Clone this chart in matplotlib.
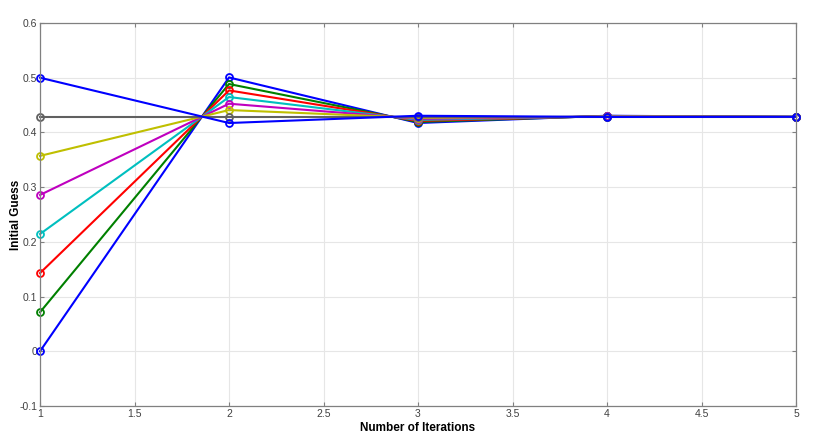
import numpy as np
import matplotlib
matplotlib.use('Agg')
import matplotlib.pyplot as plt

plt.rcParams['font.family'] = ['Liberation Sans', 'DejaVu Sans']

iterations = [1, 2, 3, 4, 5]

# one row per initial guess
guess_0 = [0.0, 0.5005, 0.4172, 0.4305, 0.4283]
guess_1 = [0.0714, 0.4885, 0.4191, 0.4301, 0.4284]
guess_2 = [0.1429, 0.4768, 0.4210, 0.4298, 0.4284]
guess_3 = [0.2143, 0.4647, 0.4229, 0.4295, 0.4285]
guess_4 = [0.2857, 0.4525, 0.4248, 0.4292, 0.4285]
guess_5 = [0.3571, 0.4409, 0.4267, 0.4289, 0.4286]
guess_6 = [0.4286, 0.4286, 0.4286, 0.4286, 0.4286]
guess_7 = [0.5000, 0.4172, 0.4305, 0.4283, 0.4286]

series = [guess_0, guess_1, guess_2, guess_3, guess_4, guess_5, guess_6, guess_7]
colors = ['#0000ff', '#008000', '#ff0000', '#00bfbf', '#bf00bf', '#bfbf00', '#606060', '#0000ff']

fig = plt.figure(figsize=(8.16, 4.45), dpi=100)
ax = fig.add_axes([40 / 816, 1 - 406 / 445, 756 / 816, 383 / 445])

for vals, c in zip(series, colors):
    ax.plot(iterations, vals, '-o', color=c, lw=1.5, ms=5,
            markerfacecolor='none', markeredgewidth=1.3, clip_on=False)

ax.set_xlim(1, 5)
ax.set_ylim(-0.1, 0.6)
ax.set_xticks(np.arange(1, 5.01, 0.5))
ax.set_xticklabels(['1', '1.5', '2', '2.5', '3', '3.5', '4', '4.5', '5'])
ax.set_yticks(np.arange(-0.1, 0.61, 0.1))
ax.set_yticklabels(['-0.1', '0', '0.1', '0.2', '0.3', '0.4', '0.5', '0.6'])

ax.grid(True, color='#e6e6e6', lw=0.8)
ax.set_axisbelow(True)
for s in ax.spines.values():
    s.set_color('#808080')
    s.set_linewidth(0.9)
ax.tick_params(direction='in', length=3, color='#808080', labelsize=7.5,
               labelcolor='#404040', top=True, right=True, pad=2)

ax.set_xlabel('Number of Iterations', fontsize=8.5, fontweight='bold', labelpad=2)
ax.set_ylabel('Initial Guess', fontsize=8.5, fontweight='bold', labelpad=-2)

fig.savefig('out.png', dpi=100)
